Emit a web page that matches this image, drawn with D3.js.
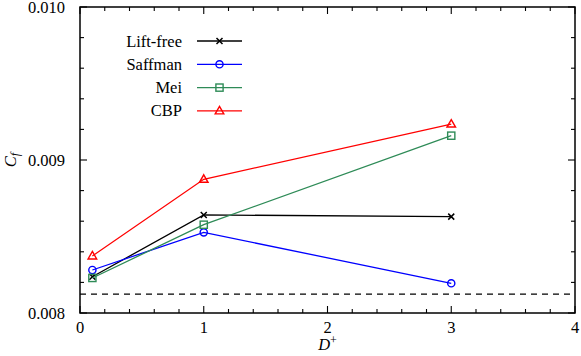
<!DOCTYPE html>
<html><head><meta charset="utf-8">
<script src="https://cdn.jsdelivr.net/npm/d3@7"></script>
</head><body style="margin:0;background:#fff;font-family:'Liberation Serif',serif">
<div id="c" style="font-family:'Liberation Serif',serif"></div>
<script>
const dPlus = [0.1, 1, 3];
const liftFree = [0.008237, 0.008641, 0.008630];
const saffman = [0.008281, 0.008527, 0.008194];
const mei = [0.008229, 0.008577, 0.009159];
const cbp = [0.008373, 0.008874, 0.009235];
const reference = 0.008124;
const seriesNames = ["Lift-free", "Saffman", "Mei", "CBP"];
const seriesColors = ["#000000", "#0000ff", "#2e8b57", "#ff0000"];
const seriesMarkers = ["cross", "circle", "square", "triangle"];
const xTicks = [0, 1, 2, 3, 4];
const yTicks = [0.008, 0.009, 0.010];

const W = 581, H = 356;
const m = {l: 80, r: 6, t: 7, b: 43};
const FS = 16.5;
const svg = d3.select("#c").append("svg").attr("width", W).attr("height", H)
  .attr("font-family", "Liberation Serif").style("display", "block");
const txt = () => svg.append("text").attr("font-family", "Liberation Serif").attr("fill", "#000");
const x = d3.scaleLinear().domain([0, 4]).range([m.l, W - m.r]);
const y = d3.scaleLinear().domain([0.008, 0.010]).range([H - m.b, m.t]);
const x0 = x.range()[0], x1 = x.range()[1], y0 = y.range()[0], y1 = y.range()[1];

// ticks (inward, mirrored)
const g = svg.append("g").attr("stroke", "#000").attr("stroke-width", 1.1);
d3.range(0, 4.0001, 0.2).forEach(v => {
  const major = Math.abs(v - Math.round(v)) < 1e-6;
  const L = major ? 7 : 4;
  g.append("line").attr("x1", x(v)).attr("x2", x(v)).attr("y1", y0).attr("y2", y0 - L);
  g.append("line").attr("x1", x(v)).attr("x2", x(v)).attr("y1", y1).attr("y2", y1 + L);
});
d3.range(0.008, 0.010001, 0.0002).forEach(v => {
  const major = Math.abs(v * 1000 - Math.round(v * 1000)) < 1e-6;
  const L = major ? 7 : 4;
  g.append("line").attr("y1", y(v)).attr("y2", y(v)).attr("x1", x0).attr("x2", x0 + L);
  g.append("line").attr("y1", y(v)).attr("y2", y(v)).attr("x1", x1).attr("x2", x1 - L);
});
svg.append("rect").attr("x", x0).attr("y", y1).attr("width", x1 - x0).attr("height", y0 - y1)
  .attr("fill", "none").attr("stroke", "#000").attr("stroke-width", 1.5);

// tick labels
xTicks.forEach(v => txt().attr("x", x(v)).attr("y", y0 + 20).attr("text-anchor", "middle")
  .attr("font-size", FS).text(d3.format("d")(v)));
yTicks.forEach(v => txt().attr("x", x0 - 15).attr("y", y(v) + 5.5).attr("text-anchor", "end")
  .attr("font-size", FS).text(d3.format(".3f")(v)));

// axis titles
const yt = txt().attr("transform", `translate(16,${y(0.009)}) rotate(-90)`).attr("text-anchor", "middle")
  .attr("font-size", FS).attr("font-style", "italic");
yt.append("tspan").text("C");
yt.append("tspan").attr("font-size", 12).attr("dy", 3).text("f");
const xt = txt().attr("x", x(2)).attr("y", H - 6).attr("text-anchor", "middle")
  .attr("font-size", FS);
xt.append("tspan").attr("font-style", "italic").text("D");
xt.append("tspan").attr("font-size", 12).attr("dy", -6).text("+");

// dashed reference
svg.append("line").attr("x1", x0).attr("x2", x1 - 4).attr("y1", y(reference)).attr("y2", y(reference))
  .attr("stroke", "#000").attr("stroke-width", 1.3).attr("stroke-dasharray", "6,5");

function marker(sel, type, cx, cy, color) {
  if (type === "cross") {
    sel.append("path").attr("d", `M${cx-3},${cy-3}L${cx+3},${cy+3}M${cx-3},${cy+3}L${cx+3},${cy-3}`)
      .attr("stroke", color).attr("stroke-width", 1.5).attr("fill", "none");
  } else if (type === "circle") {
    sel.append("circle").attr("cx", cx).attr("cy", cy).attr("r", 3.6).attr("fill", "none")
      .attr("stroke", color).attr("stroke-width", 1.4);
  } else if (type === "square") {
    sel.append("rect").attr("x", cx - 3.6).attr("y", cy - 3.6).attr("width", 7.2).attr("height", 7.2)
      .attr("fill", "none").attr("stroke", color).attr("stroke-width", 1.4);
  } else {
    sel.append("path").attr("d", `M${cx},${cy-4.5}L${cx+4.3},${cy+3}L${cx-4.3},${cy+3}Z`)
      .attr("fill", "none").attr("stroke", color).attr("stroke-width", 1.4);
  }
}

const allSeries = [liftFree, saffman, mei, cbp];
const line = d3.line().x((d, i) => x(dPlus[i])).y(d => y(d));
allSeries.forEach((s, k) => {
  svg.append("path").datum(s).attr("d", line).attr("fill", "none")
    .attr("stroke", seriesColors[k]).attr("stroke-width", 1.3);
  s.forEach((v, i) => marker(svg, seriesMarkers[k], x(dPlus[i]), y(v), seriesColors[k]));
});

// legend
seriesNames.forEach((n, k) => {
  const ly = 41 + k * 23.3;
  txt().attr("x", 182).attr("y", ly + 5.5).attr("text-anchor", "end").attr("font-size", FS).text(n);
  svg.append("line").attr("x1", 197).attr("x2", 242).attr("y1", ly).attr("y2", ly)
    .attr("stroke", seriesColors[k]).attr("stroke-width", 1.3);
  marker(svg, seriesMarkers[k], 219.5, ly, seriesColors[k]);
});
</script></body></html>
